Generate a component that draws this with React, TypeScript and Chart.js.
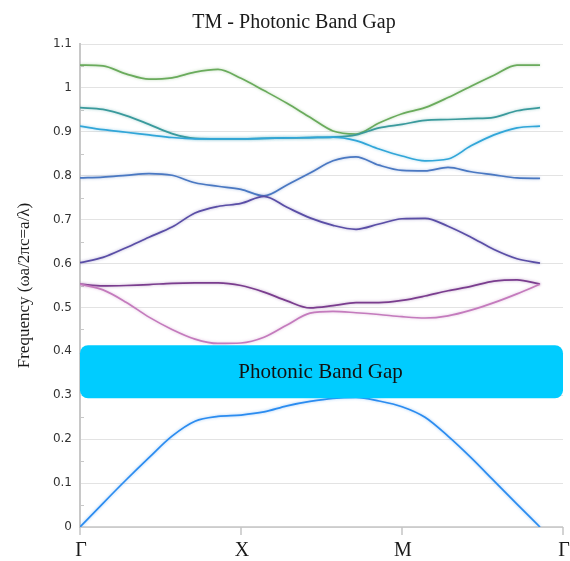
import React, { useEffect, useRef } from 'react';
import { Chart, registerables } from 'chart.js';

Chart.register(...registerables);

// Path coordinate along Γ → X → M → Γ (axis spans 0..21, data 0..20)
const K_POINTS = [0, 1, 2, 3, 4, 5, 6, 7, 8, 9, 10, 11, 12, 13, 14, 15, 16, 17, 18, 19, 20];
const X_TICK_POS = [0, 7, 14, 21];
const X_TICK_LABELS = ['Γ', 'X', 'M', 'Γ'];
const X_MIN = 0;
const X_MAX = 21;
const Y_MIN = 0;
const Y_MAX = 1.1;
const Y_STEP = 0.1;

const BAND_1 = [0, 0.054, 0.107, 0.158, 0.207, 0.241, 0.252, 0.255, 0.262, 0.276, 0.286, 0.293, 0.295, 0.287, 0.274, 0.25, 0.207, 0.158, 0.105, 0.052, 0];
const BAND_2 = [0.553, 0.54, 0.512, 0.478, 0.45, 0.428, 0.418, 0.419, 0.432, 0.46, 0.487, 0.491, 0.488, 0.484, 0.479, 0.476, 0.481, 0.494, 0.511, 0.531, 0.553];
const BAND_3 = [0.553, 0.549, 0.55, 0.552, 0.555, 0.556, 0.556, 0.55, 0.535, 0.515, 0.499, 0.504, 0.511, 0.511, 0.516, 0.526, 0.538, 0.548, 0.56, 0.563, 0.553];
const BAND_4 = [0.602, 0.614, 0.636, 0.66, 0.683, 0.715, 0.73, 0.737, 0.753, 0.728, 0.704, 0.687, 0.678, 0.69, 0.702, 0.703, 0.685, 0.66, 0.632, 0.611, 0.601];
const BAND_5 = [0.795, 0.797, 0.801, 0.805, 0.801, 0.784, 0.776, 0.769, 0.754, 0.779, 0.806, 0.834, 0.843, 0.824, 0.812, 0.811, 0.819, 0.809, 0.802, 0.795, 0.794];
const BAND_6 = [0.913, 0.905, 0.899, 0.893, 0.887, 0.884, 0.884, 0.884, 0.885, 0.886, 0.887, 0.888, 0.88, 0.861, 0.845, 0.834, 0.838, 0.868, 0.893, 0.909, 0.913];
const BAND_7 = [0.955, 0.951, 0.937, 0.917, 0.896, 0.885, 0.884, 0.884, 0.885, 0.886, 0.887, 0.888, 0.893, 0.909, 0.917, 0.926, 0.928, 0.93, 0.933, 0.948, 0.955];
const BAND_8 = [1.052, 1.05, 1.032, 1.02, 1.023, 1.036, 1.042, 1.022, 0.994, 0.965, 0.933, 0.902, 0.895, 0.92, 0.941, 0.955, 0.978, 1.004, 1.029, 1.052, 1.052];

const BANDS = [BAND_1, BAND_2, BAND_3, BAND_4, BAND_5, BAND_6, BAND_7, BAND_8];
const BAND_COLORS = ['#2b8cf0', '#c47bbd', '#7a3d8e', '#5a4ea6', '#4a78c2', '#31a6d8', '#3a9a9c', '#6aab5c'];

const GAP_RANGE = [0.293, 0.414];
const GAP_LABEL = 'Photonic Band Gap';
const GAP_COLOR = '#00ccff';
const TITLE = 'TM - Photonic Band Gap';
const Y_TITLE = 'Frequency (ωa/2πc=a/λ)';

const SERIF = '"Liberation Serif", "Times New Roman", serif';

const decor = {
  id: 'decor',
  beforeDatasetsDraw(chart: any) {
    const { ctx, chartArea } = chart;
    const x = chart.scales.x;
    const y = chart.scales.y;
    ctx.save();
    // minor y ticks (inside)
    ctx.strokeStyle = '#c8c8c8';
    ctx.lineWidth = 1;
    for (let v = Y_MIN + Y_STEP / 2; v < Y_MAX; v += Y_STEP) {
      const py = Math.round(y.getPixelForValue(v)) + 0.5;
      ctx.beginPath();
      ctx.moveTo(chartArea.left, py);
      ctx.lineTo(chartArea.left + 4, py);
      ctx.stroke();
    }
    // x axis line + ticks
    const by = y.getPixelForValue(Y_MIN);
    ctx.strokeStyle = '#c4c4c4';
    ctx.lineWidth = 1.5;
    ctx.beginPath();
    ctx.moveTo(chartArea.left, by);
    ctx.lineTo(chartArea.right, by);
    ctx.stroke();
    X_TICK_POS.forEach((t) => {
      const px = x.getPixelForValue(t);
      ctx.beginPath();
      ctx.moveTo(px, by);
      ctx.lineTo(px, by + 8);
      ctx.stroke();
    });
    ctx.restore();
  },
  beforeDatasetDraw(chart: any, args: any) {
    const ctx = chart.ctx;
    ctx.save();
    ctx.shadowColor = BAND_COLORS[args.index] + '77';
    ctx.shadowBlur = 3;
  },
  afterDatasetDraw(chart: any) {
    chart.ctx.restore();
  },
  afterDatasetsDraw(chart: any) {
    const { ctx } = chart;
    const x = chart.scales.x;
    const y = chart.scales.y;
    const x0 = x.getPixelForValue(X_MIN);
    const x1 = x.getPixelForValue(X_MAX);
    const yTop = y.getPixelForValue(GAP_RANGE[1]);
    const yBot = y.getPixelForValue(GAP_RANGE[0]);
    ctx.save();
    ctx.fillStyle = GAP_COLOR;
    ctx.beginPath();
    if (ctx.roundRect) {
      ctx.roundRect(x0, yTop, x1 - x0, yBot - yTop, 8);
    } else {
      ctx.rect(x0, yTop, x1 - x0, yBot - yTop);
    }
    ctx.fill();
    ctx.fillStyle = '#111';
    ctx.font = '21px ' + SERIF;
    ctx.textAlign = 'center';
    ctx.textBaseline = 'middle';
    ctx.fillText(GAP_LABEL, (x0 + x1) / 2 - 1, (yTop + yBot) / 2 + 1);
    ctx.restore();
  },
  afterDraw(chart: any) {
    const { ctx } = chart;
    const x = chart.scales.x;
    ctx.save();
    ctx.fillStyle = '#1a1a1a';
    ctx.font = '20px ' + SERIF;
    ctx.textAlign = 'center';
    ctx.textBaseline = 'alphabetic';
    ctx.fillText(TITLE, 294, 28);
    X_TICK_POS.forEach((t, i) => {
      const px = x.getPixelForValue(t);
      ctx.fillText(X_TICK_LABELS[i], px + (i === 0 ? 1 : 1), 556);
    });
    ctx.restore();
  },
};

export default function App() {
  const canvasRef = useRef<HTMLCanvasElement | null>(null);

  useEffect(() => {
    const canvas = canvasRef.current;
    if (!canvas) return;
    const chart = new Chart(canvas, {
      type: 'line',
      data: {
        datasets: BANDS.map((band, bi) => ({
          label: 'Band ' + (bi + 1),
          data: K_POINTS.map((k, i) => ({ x: k, y: band[i] })),
          borderColor: BAND_COLORS[bi],
          backgroundColor: BAND_COLORS[bi],
          borderWidth: 1.7,
          pointRadius: 0,
          fill: false,
          cubicInterpolationMode: 'monotone' as const,
        })),
      },
      options: {
        animation: false,
        responsive: true,
        maintainAspectRatio: false,
        layout: { padding: { top: 44, right: 7, bottom: 34, left: 0 } },
        plugins: {
          legend: { display: false },
          title: { display: false },
          tooltip: { enabled: false },
        },
        scales: {
          x: {
            type: 'linear',
            min: X_MIN,
            max: X_MAX,
            display: false,
          },
          y: {
            type: 'linear',
            min: Y_MIN,
            max: Y_MAX,
            afterFit: (s: any) => {
              s.width = 80;
            },
            ticks: {
              stepSize: Y_STEP,
              padding: 8,
              color: '#333',
              font: { family: '"DejaVu Sans", sans-serif', size: 12 },
              callback: (v: any) => String(Math.round(Number(v) * 10) / 10),
            },
            grid: { color: '#e3e3e3', drawTicks: false, lineWidth: 1 },
            border: { display: true, color: '#c8c8c8', width: 2 },
            title: {
              display: true,
              text: Y_TITLE,
              color: '#1a1a1a',
              font: { family: SERIF, size: 17 },
              padding: { top: 14, bottom: 0 },
            },
          },
        },
      },
      plugins: [decor],
    });
    return () => chart.destroy();
  }, []);

  return (
    <div style={{ position: 'absolute', left: 0, top: 0, width: 570, height: 561, background: '#fff' }}>
      <canvas ref={canvasRef} />
    </div>
  );
}
